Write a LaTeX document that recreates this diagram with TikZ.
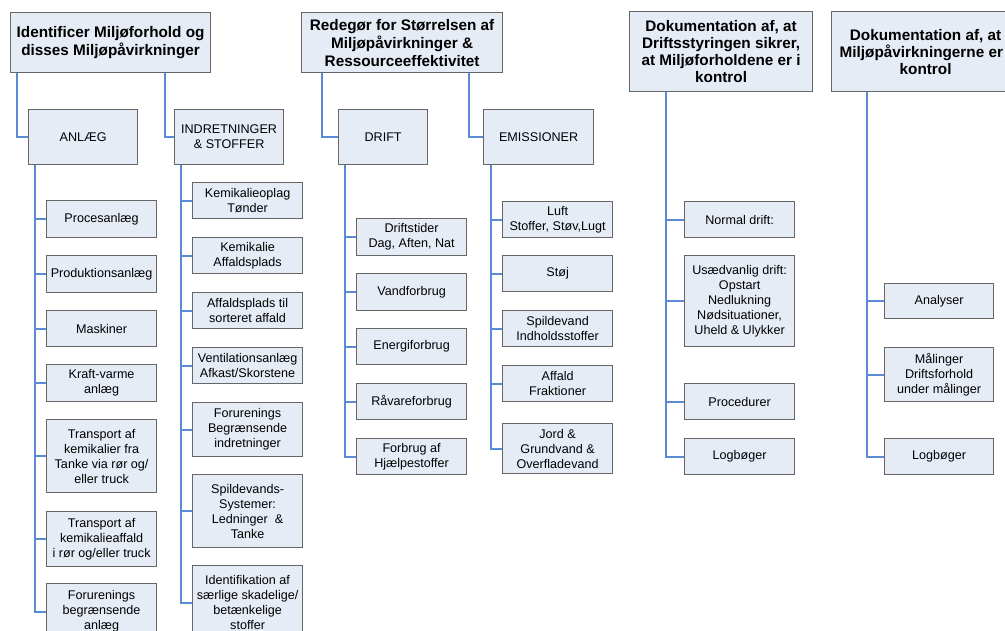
\documentclass[tikz,border=0pt]{standalone}
\usepackage{fontspec}
\setmainfont{Liberation Sans}
\usetikzlibrary{calc}
\definecolor{boxfill}{HTML}{E6ECF6}
\definecolor{boxline}{HTML}{666666}
\definecolor{conn}{HTML}{5B8BD5}
\tikzset{
  cbox/.style={draw=boxline, fill=boxfill, line width=1.2pt, rectangle, inner sep=0pt, align=center, anchor=north west,
    font=\fontsize{12.6}{15}\selectfont},
  hbox/.style={cbox, font=\bfseries\fontsize{15.3}{18}\selectfont},
  hboxb/.style={cbox, font=\bfseries\fontsize{15.3}{17}\selectfont},
  link/.style={draw=conn, line width=1.8pt}
}
\newcommand\bx[6]{\node[cbox, minimum width=#4pt, minimum height=#5pt] (#1) at (#2,#3) {#6};}
\begin{document}
\begin{tikzpicture}[x=1pt,y=-1pt]
\useasboundingbox (0,0) rectangle (1005,630);
\fill[white] (0,0) rectangle (1005,630);
\clip (0,0) rectangle (1005,630);

% top level
\node[hbox, minimum width=200pt, minimum height=60pt] (t1) at (10,12) {Identificer Miljøforhold og\\disses Miljøpåvirkninger};
\node[hbox, minimum width=201pt, minimum height=60pt] (t2) at (301,12) {Redegør for Størrelsen af\\Miljøpåvirkninger \&\\Ressourceeffektivitet};
\node[hboxb, minimum width=183pt, minimum height=80pt] (t3) at (629,11) {Dokumentation af, at\\Driftsstyringen sikrer,\\at Miljøforholdene er i\\kontrol};
\node[hboxb, minimum width=188pt, minimum height=80pt] (t4) at (831,11) {Dokumentation af, at\\Miljøpåvirkningerne er i\\kontrol};

% second level
\bx{anl}{28}{109}{109}{55}{ANLÆG}
\bx{ind}{174}{109}{109}{55}{INDRETNINGER\\\& STOFFER}
\bx{dri}{338}{109}{89}{55}{DRIFT}
\bx{emi}{483}{109}{110}{55}{EMISSIONER}

% ANLAEG children
\bx{a1}{46}{200}{110}{37}{Procesanlæg}
\bx{a2}{46}{255}{110}{37}{Produktionsanlæg}
\bx{a3}{46}{310}{110}{36}{Maskiner}
\bx{a4}{46}{364}{110}{37}{Kraft-varme\\anlæg}
\bx{a5}{46}{419}{110}{73}{Transport af\\kemikalier fra\\Tanke via rør og/\\eller truck}
\bx{a6}{46}{511}{110}{55}{Transport af\\kemikalieaffald\\i rør og/eller truck}
\bx{a7}{46}{583}{110}{56}{Forurenings\\begrænsende\\anlæg}

% INDRETNINGER children
\bx{b1}{192}{182}{110}{36}{Kemikalieoplag\\Tønder}
\bx{b2}{192}{237}{110}{36}{Kemikalie\\Affaldsplads}
\bx{b3}{192}{292}{110}{36}{Affaldsplads til\\sorteret affald}
\bx{b4}{192}{347}{110}{36}{Ventilationsanlæg\\Afkast/Skorstene}
\bx{b5}{192}{402}{110}{54}{Forurenings\\Begrænsende\\indretninger}
\bx{b6}{192}{474}{110}{73}{Spildevands-\\Systemer:\\Ledninger~ \&\\Tanke}
\bx{b7}{192}{565}{110}{74}{Identifikation af\\særlige skadelige/\\betænkelige\\stoffer}

% DRIFT children
\bx{d1}{356}{218}{110}{37}{Driftstider\\Dag, Aften, Nat}
\bx{d2}{356}{273}{110}{37}{Vandforbrug}
\bx{d3}{356}{328}{110}{36}{Energiforbrug}
\bx{d4}{356}{383}{110}{36}{Råvareforbrug}
\bx{d5}{356}{438}{110}{36}{Forbrug af\\Hjælpestoffer}

% EMISSIONER children
\bx{e1}{502}{201}{110}{36}{Luft\\Stoffer, Støv,Lugt}
\bx{e2}{502}{255}{110}{36}{Støj}
\bx{e3}{502}{310}{110}{36}{Spildevand\\Indholdsstoffer}
\bx{e4}{502}{365}{110}{36}{Affald\\Fraktioner}
\bx{e5}{502}{423}{110}{50}{Jord \&\\Grundvand \&\\Overfladevand}

% Doc 1 children
\bx{f1}{684}{201}{110}{36}{Normal drift:}
\bx{f2}{684}{255}{110}{91}{Usædvanlig drift:\\Opstart\\Nedlukning\\Nødsituationer,\\Uheld \& Ulykker}
\bx{f3}{684}{383}{110}{36}{Procedurer}
\bx{f4}{684}{438}{110}{36}{Logbøger}

% Doc 2 children
\bx{g1}{884}{283}{109}{35}{Analyser}
\bx{g2}{884}{347}{109}{54}{Målinger\\Driftsforhold\\under målinger}
\bx{g3}{884}{438}{109}{36}{Logbøger}

% connectors top -> second level
\draw[link] ($(t1.south west)+(7,0)$) |- (anl.west);
\draw[link] ($(t1.south east)+(-46,0)$) |- (ind.west);
\draw[link] ($(t2.south west)+(21,0)$) |- (dri.west);
\draw[link] ($(t2.south east)+(-34,0)$) |- (emi.west);

% ANLAEG
\foreach \c in {a1,a2,a3,a4,a5,a6,a7}
  \draw[link] ($(anl.south west)+(7,0)$) |- (\c.west);
% INDRETNINGER
\foreach \c in {b1,b2,b3,b4,b5,b6,b7}
  \draw[link] ($(ind.south west)+(7,0)$) |- (\c.west);
% DRIFT
\foreach \c in {d1,d2,d3,d4,d5}
  \draw[link] ($(dri.south west)+(7,0)$) |- (\c.west);
% EMISSIONER
\foreach \c in {e1,e2,e3,e4,e5}
  \draw[link] ($(emi.south west)+(8,0)$) |- (\c.west);
% Doc 1
\foreach \c in {f1,f2,f3,f4}
  \draw[link] ($(t3.south west)+(37,0)$) |- (\c.west);
% Doc 2
\foreach \c in {g1,g2,g3}
  \draw[link] ($(t4.south west)+(36,0)$) |- (\c.west);
\end{tikzpicture}
\end{document}
